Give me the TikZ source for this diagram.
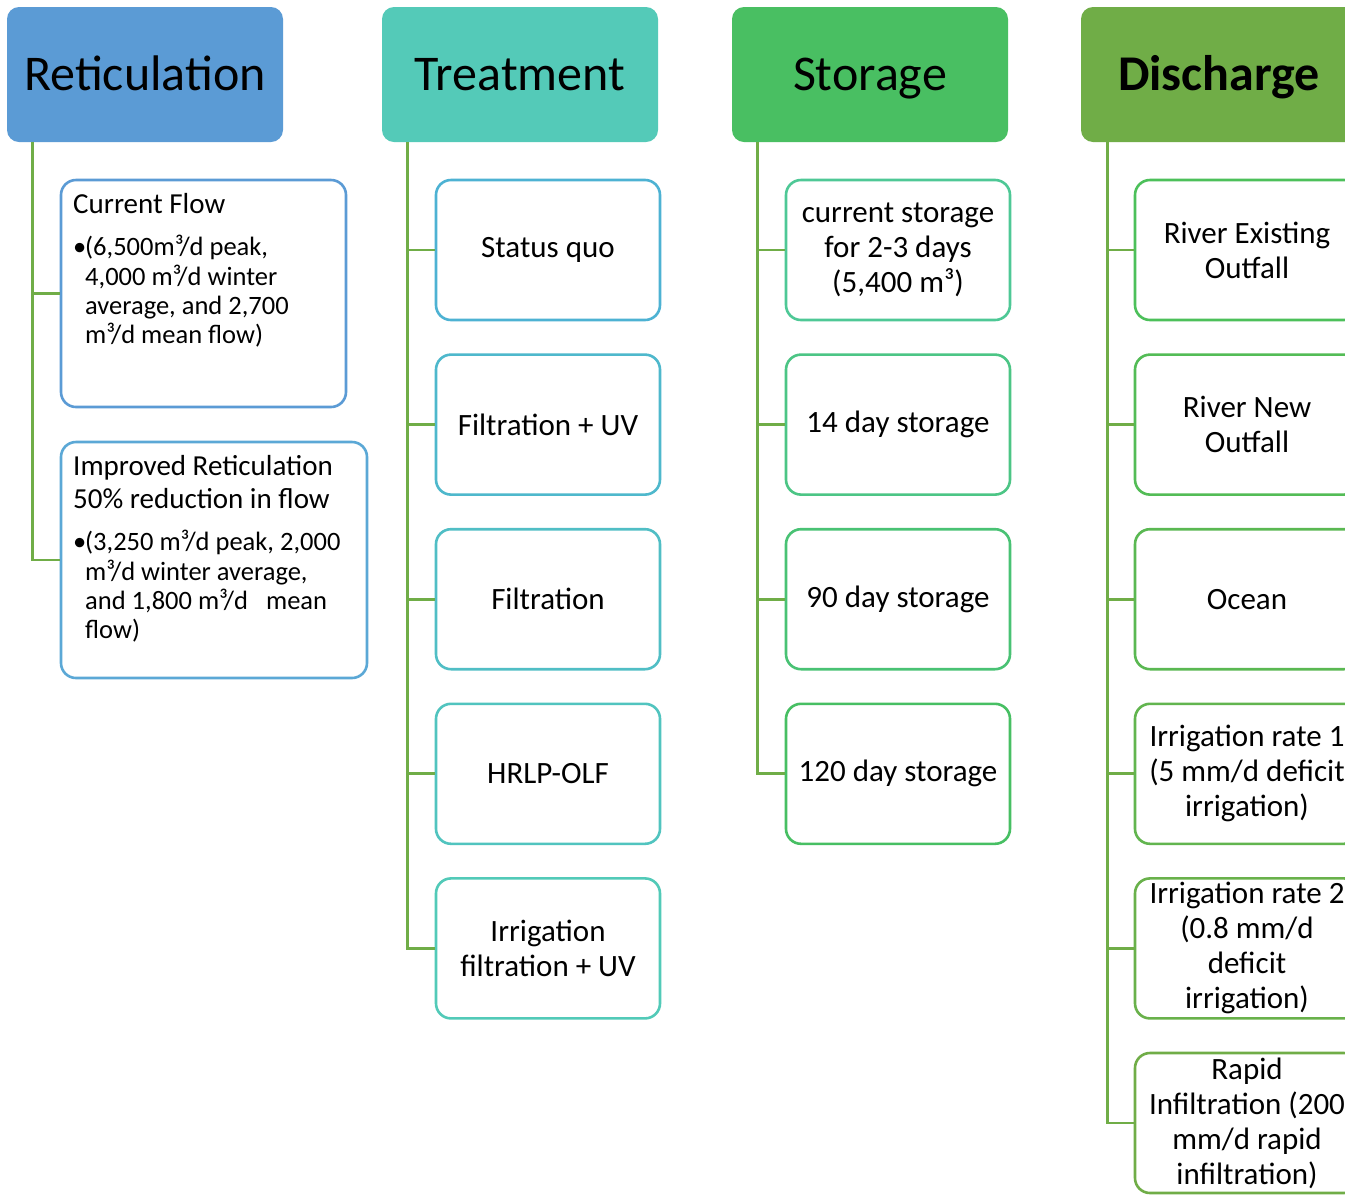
\documentclass[tikz,border=0pt]{standalone}
\usepackage{fontspec}
\setmainfont{Carlito}
\usetikzlibrary{calc}
\definecolor{cRet}{HTML}{5B9BD5}
\definecolor{cRetB}{HTML}{5BA8D6}
\definecolor{cTre}{HTML}{54CAB8}
\definecolor{cSto}{HTML}{49BF62}
\definecolor{cDis}{HTML}{70AD47}
\definecolor{cConn}{HTML}{70AD47}
\definecolor{tA}{HTML}{4DB2D3}
\definecolor{tB}{HTML}{52CAB8}
\definecolor{sA}{HTML}{4EC896}
\definecolor{sB}{HTML}{47BF63}
\definecolor{dA}{HTML}{4CC05A}
\definecolor{dB}{HTML}{70AD47}
\tikzset{
  hdr/.style={rounded corners=12pt, minimum width=276pt, minimum height=135pt, inner sep=0pt,
    font=\fontsize{50}{60}\selectfont, text height=32pt, text depth=0pt},
  stbox/.style={draw, line width=2.6pt, fill=white, rounded corners=15pt, minimum width=224pt,
    minimum height=140pt, inner sep=0pt, align=center, font=\fontsize{31}{35}\selectfont},
  conn/.style={draw=cConn, line width=2.8pt},
  rtext/.style={anchor=base west, inner sep=0pt}
}
\newcommand{\bul}{\makebox[12pt][l]{•}}
\newcommand{\ind}{\hspace*{12pt}}
\begin{document}
\begin{tikzpicture}[x=1pt,y=-1pt]
\useasboundingbox (0,0) rectangle (1345,1195);
\clip (0,0) rectangle (1345,1195);
\fill[white] (0,0) rectangle (1345,1195);
% headers
\node[hdr, fill=cRet] (ret) at (145,74.5) {Reticulation};
\node[hdr, fill=cTre] (tre) at (520,74.5) {Treatment};
\node[hdr, fill=cSto] (sto) at (870,74.5) {Storage};
\node[hdr, fill=cDis, font=\fontsize{50}{60}\selectfont\bfseries] (dis) at (1219,74.5) {Discharge};
% connector spines
\coordinate (retL) at ($(ret.south west)+(26,0)$);
\coordinate (treL) at ($(tre.south west)+(26,0)$);
\coordinate (stoL) at ($(sto.south west)+(26,0)$);
\coordinate (disL) at ($(dis.south west)+(27,0)$);
% reticulation boxes
\node[stbox, draw=cRet, minimum width=285pt, minimum height=227pt] (cf) at (203.5,293.5) {};
\node[stbox, draw=cRetB, minimum width=306pt, minimum height=236pt] (ir) at (214,560) {};
\node[rtext] (cft) at (73,213) {\parbox[t]{280pt}{\raggedright
  {\fontsize{29}{33}\selectfont Current Flow\par}\vspace{13.5pt}
  {\fontsize{26.5}{29.3}\selectfont \bul(6,500m³/d peak,\\ \ind 4,000 m³/d winter\\ \ind average, and 2,700\\ \ind m³/d mean flow)\par}}};
\node[rtext] (irt) at (73,475) {\parbox[t]{290pt}{\raggedright
  {\fontsize{29}{33}\selectfont Improved Reticulation\\50\% reduction in flow\par}\vspace{13.5pt}
  {\fontsize{26.5}{29.3}\selectfont \bul(3,250 m³/d peak, 2,000\\ \ind m³/d winter average,\\ \ind and 1,800 m³/d\hspace{18pt}mean\\ \ind flow)\par}}};
% treatment boxes
\node[stbox, draw=tA] (t1) at (548,250) {Status quo};
\node[stbox, draw=tA!75!tB] (t2) at (548,424.6) {Filtration + UV};
\node[stbox, draw=tA!50!tB] (t3) at (548,599.2) {Filtration};
\node[stbox, draw=tA!25!tB] (t4) at (548,773.8) {HRLP-OLF};
\node[stbox, draw=tB] (t5) at (548,948.4) {Irrigation\\filtration + UV};
% storage boxes
\node[stbox, draw=sA] (s1) at (898,250) {current storage\\for 2-3 days\\(5,400 m³)};
\node[stbox, draw=sA!67!sB] (s2) at (898,424.6) {14 day storage};
\node[stbox, draw=sA!33!sB] (s3) at (898,599.2) {90 day storage};
\node[stbox, draw=sB] (s4) at (898,773.8) {120 day storage};
% discharge boxes
\node[stbox, draw=dA] (d1) at (1247,250) {River Existing\\Outfall};
\node[stbox, draw=dA!80!dB] (d2) at (1247,424.6) {River New\\Outfall};
\node[stbox, draw=dA!60!dB] (d3) at (1247,599.2) {Ocean};
\node[stbox, draw=dA!40!dB] (d4) at (1247,773.8) {Irrigation rate 1\\(5 mm/d deficit\\irrigation)};
\node[stbox, draw=dA!20!dB] (d5) at (1247,948.4) {Irrigation rate 2\\(0.8 mm/d\\deficit\\irrigation)};
\node[stbox, draw=dB] (d6) at (1247,1123) {Rapid\\Infiltration (200\\mm/d rapid\\infiltration)};
% connectors
\draw[conn] (retL) |- (cf.west);
\draw[conn] (retL) |- (ir.west);
\foreach \n in {t1,t2,t3,t4,t5} \draw[conn] (treL) |- (\n.west);
\foreach \n in {s1,s2,s3,s4} \draw[conn] (stoL) |- (\n.west);
\foreach \n in {d1,d2,d3,d4,d5,d6} \draw[conn] (disL) |- (\n.west);
\end{tikzpicture}
\end{document}
